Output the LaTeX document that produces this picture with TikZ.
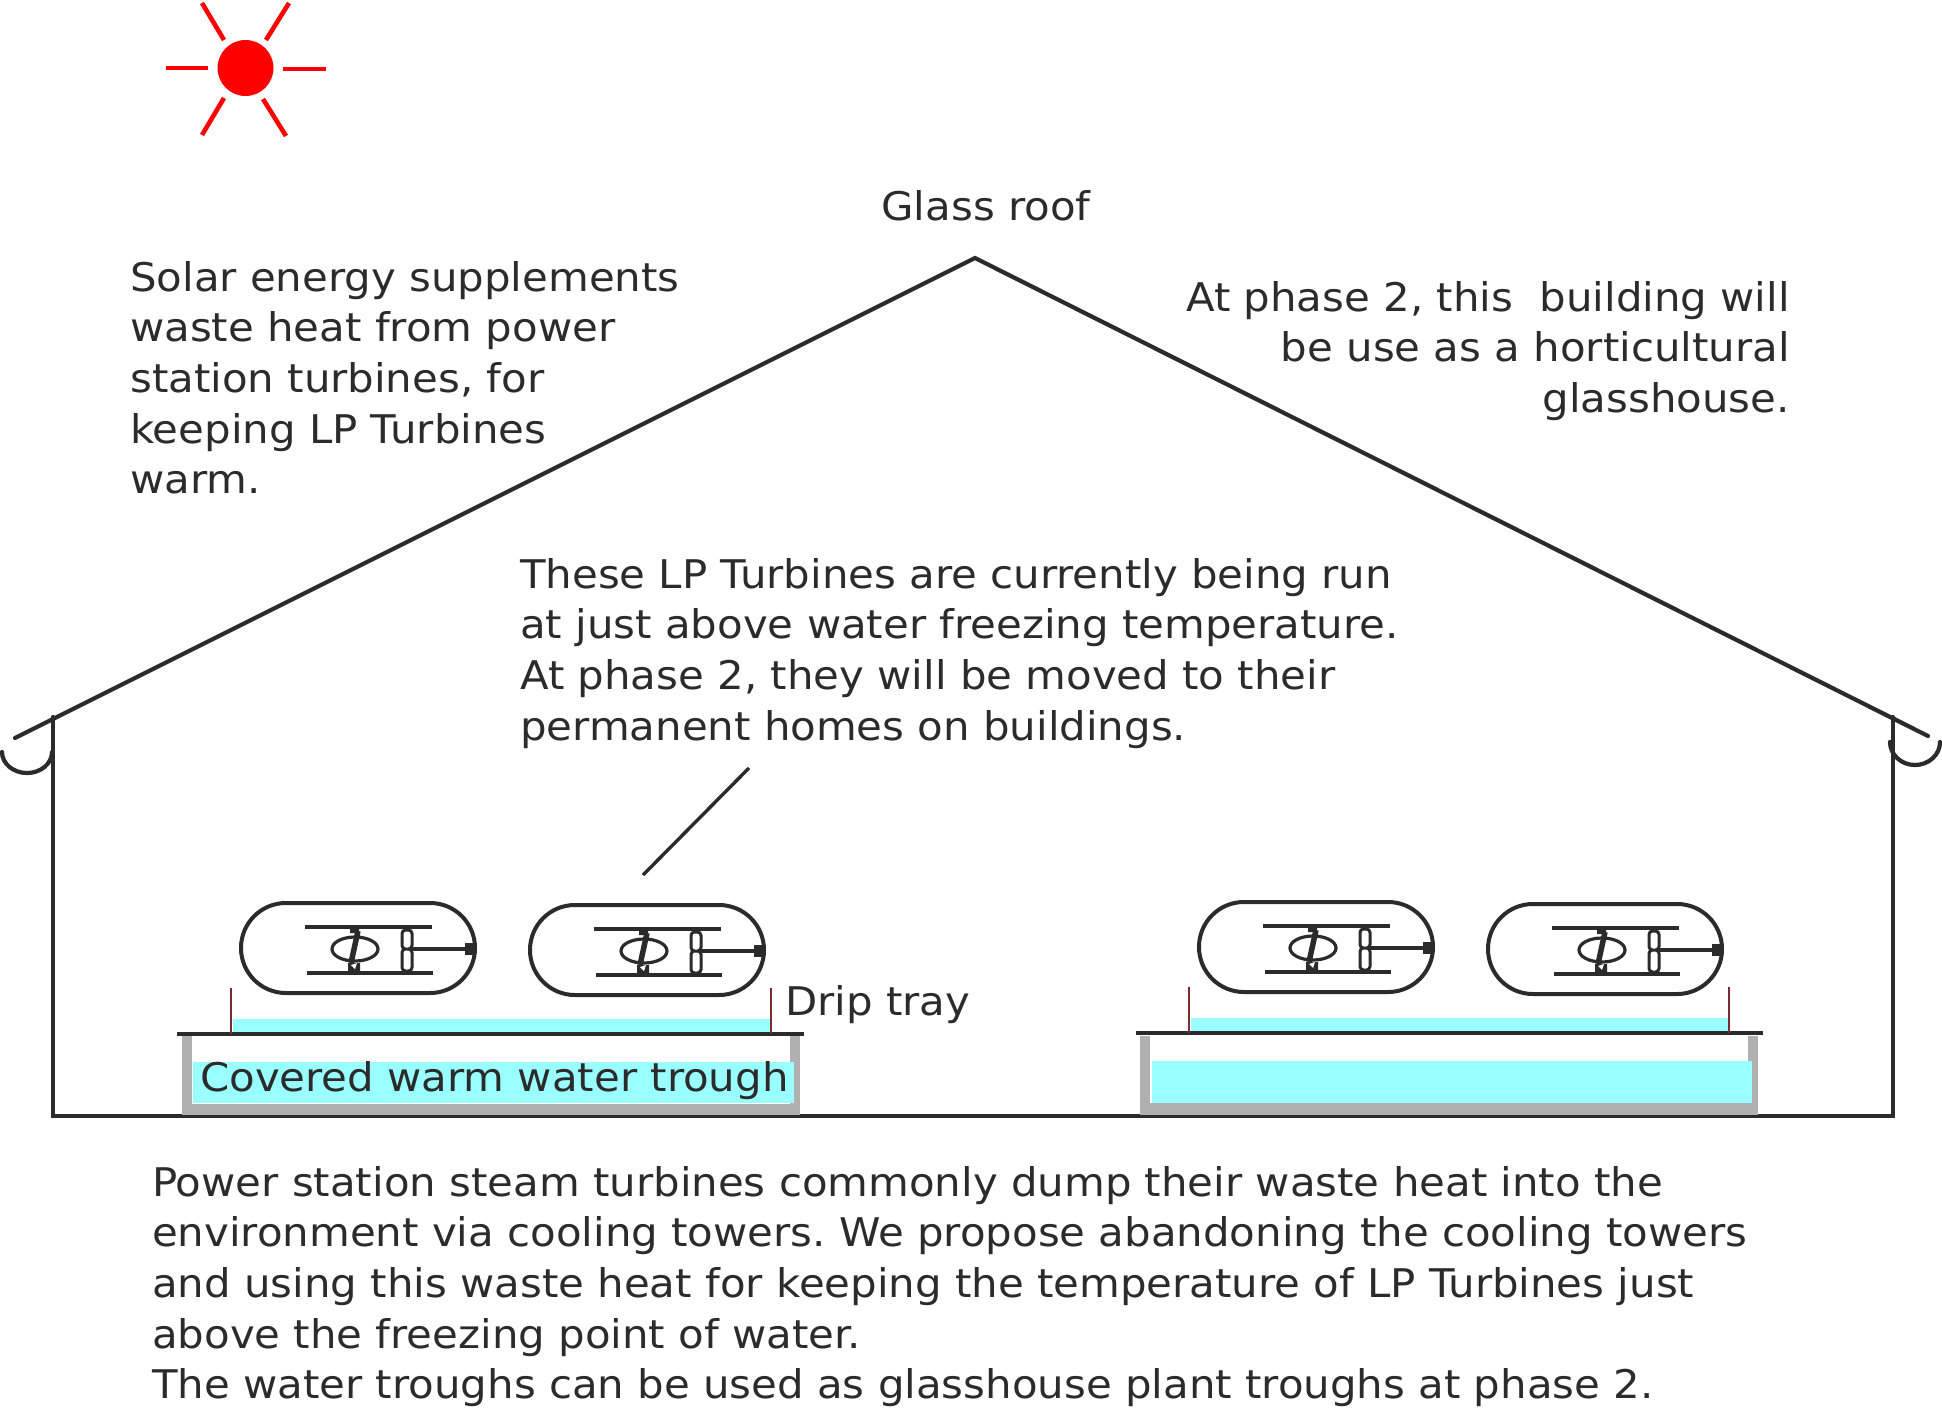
\documentclass[tikz,border=0pt]{standalone}
\usepackage{fontspec}
\setmainfont[FakeStretch=1.06]{DejaVu Sans}
\frenchspacing
\definecolor{ink}{HTML}{2B2B2B}
\definecolor{wat}{HTML}{99FFFF}
\definecolor{trough}{HTML}{B0B0B0}
\definecolor{post}{HTML}{7A2A30}
\tikzset{
  x=1pt,y=-1pt,
  txt/.style={text=ink,inner sep=0pt,font=\frenchspacing\fontsize{39.5}{50.6}\selectfont},
  struct/.style={draw=ink,line width=4.2pt,line cap=round},
  ray/.style={draw=red,line width=4.6pt},
  postline/.style={draw=post,line width=1.6pt},
  turb/.pic={
    \draw[ink,line width=4pt,rounded corners=44.9pt] (0,0) rectangle (234,90);
    \draw[ink,line width=4pt] (64,24) -- (191,24) (66,70) -- (192,70);
    \draw[ink,line width=3.2pt] (114,46) ellipse (23 and 12);
    \fill[ink] (109,24) rectangle (118,30) (107,60) rectangle (119,70);
    \draw[ink,line width=5.5pt] (117,28) -- (110,60);
    \fill[white] (110,62) -- (116,60) -- (114,66) -- cycle;
    \draw[ink,line width=3pt,rounded corners=3.5pt] (161,27) rectangle (171,46) (161,46) rectangle (171,68);
    \draw[ink,line width=3.8pt] (171,46) -- (224,46);
    \fill[ink] (224,40) rectangle (234,52);
  }
}
\begin{document}
\begin{tikzpicture}
\useasboundingbox (0,0) rectangle (1942,1410);
% sun
\fill[red] (245.5,68) circle (28);
\draw[ray] (166,68) -- (208,68);
\draw[ray] (283,69) -- (326,69);
\draw[ray] (202,3) -- (224,40);
\draw[ray] (289,3) -- (266,40);
\draw[ray] (202,135) -- (224,98);
\draw[ray] (286,136) -- (263,99);
% building
\draw[struct] (15,738) -- (975,258) -- (1928,736);
\draw[struct] (53,717) -- (53,1116) -- (1893,1116) -- (1893,717);
\draw[struct] (2,752) arc[start angle=180,end angle=0,x radius=25,y radius=21];
\draw[struct] (1890,742) arc[start angle=180,end angle=0,x radius=25,y radius=23];
% left trough
\fill[trough] (182,1036) rectangle (800,1115);
\fill[white] (192,1036) rectangle (790,1104);
\fill[wat] (193,1062) rectangle (794,1103);
\fill[wat] (233,1019) rectangle (770,1032);
\draw[ink,line width=3.6pt] (177,1034) -- (804,1034);
\draw[postline] (231,988) -- (231,1034);
\draw[postline] (771,988) -- (771,1034);
% right trough
\fill[trough] (1140,1036) rectangle (1758,1115);
\fill[white] (1150,1036) rectangle (1748,1103);
\fill[wat] (1152,1061) rectangle (1752,1103);
\fill[wat] (1191,1018) rectangle (1729,1032);
\draw[ink,line width=3.6pt] (1136,1033) -- (1763,1033);
\draw[postline] (1189,987) -- (1189,1033);
\draw[postline] (1729,987) -- (1729,1033);
% turbines
\pic at (241,903) {turb};
\pic at (530,905) {turb};
\pic at (1199,902) {turb};
\pic at (1488,904) {turb};
% leader
\coordinate (leadA) at (749,768);
\coordinate (leadB) at (643,875);
\draw[ink,line width=3.4pt] (leadA) -- (leadB);
% texts
\node[txt,anchor=base] (roof) at (986,220) {Glass roof};
\node[txt,anchor=north west,align=left] (solar) at (130,261) {Solar energy supplements\\waste heat from power\\station turbines, for\\keeping LP Turbines\\warm.};
\node[txt,anchor=north east,align=right] (phase) at (1790,281) {At phase 2, this\ \ building will\\be use as a horticultural\\glasshouse.};
\node[txt,anchor=north west,align=left] (lp) at (520,558) {These LP Turbines are currently being run\\at just above water freezing temperature.\\At phase 2, they will be moved to their\\permanent homes on buildings.};
\node[txt,anchor=base west] (drip) at (785,1015) {Drip tray};
\node[txt,anchor=base west] (cov) at (200,1091) {Covered warm water trough};
\node[txt,anchor=north west,align=left] (power) at (152,1166) {Power station steam turbines commonly dump their waste heat into the\\environment via cooling towers. We propose abandoning the cooling towers\\and using this waste heat for keeping the temperature of LP Turbines just\\above the freezing point of water.\\The water troughs can be used as glasshouse plant troughs at phase 2.};
\end{tikzpicture}
\end{document}
